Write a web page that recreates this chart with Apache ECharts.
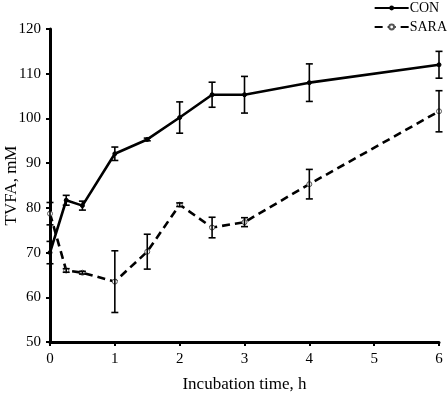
<!DOCTYPE html>
<html>
<head>
<meta charset="utf-8">
<script src="https://cdn.jsdelivr.net/npm/echarts@6/dist/echarts.min.js"></script>
<style>
html,body{margin:0;padding:0;background:#fff;}
#chart{width:447px;height:393px;}
</style>
</head>
<body>
<div id="chart"></div>
<script>
// Incubation times (h)
var times = [0, 0.25, 0.5, 1, 1.5, 2, 2.5, 3, 4, 6];
// CON mean and SE
var conMean = [70.0, 81.7, 80.5, 92.1, 95.3, 100.2, 105.3, 105.3, 108.0, 112.0];
var conErr  = [2.5, 1.1, 1.0, 1.5, 0.3, 3.5, 2.8, 4.1, 4.2, 3.0];
// SARA mean and SE
var saraMean = [78.7, 66.0, 65.5, 63.5, 70.2, 80.7, 75.6, 76.8, 85.3, 101.6];
var saraErr  = [2.5, 0.4, 0.3, 6.9, 3.9, 0.4, 2.3, 1.0, 3.3, 4.6];
// axis ticks
var yTicks = [50, 60, 70, 80, 90, 100, 110, 120];
var xTicks = [0, 1, 2, 3, 4, 5, 6];

function pts(mean){ return times.map(function(t,i){ return [t, mean[i]]; }); }
function errs(mean, err){ return times.map(function(t,i){ return [t, mean[i]-err[i], mean[i]+err[i]]; }); }

function errRender(params, api){
  var x = api.value(0), lo = api.value(1), hi = api.value(2);
  var pLo = api.coord([x, lo]), pHi = api.coord([x, hi]);
  var w = 3.5;
  var st = {stroke:'#000', lineWidth:1.6};
  return {type:'group', children:[
    {type:'line', shape:{x1:pLo[0],y1:pLo[1],x2:pHi[0],y2:pHi[1]}, style:st},
    {type:'line', shape:{x1:pLo[0]-w,y1:pLo[1],x2:pLo[0]+w,y2:pLo[1]}, style:st},
    {type:'line', shape:{x1:pHi[0]-w,y1:pHi[1],x2:pHi[0]+w,y2:pHi[1]}, style:st}
  ]};
}

var font = 'Liberation Serif';
var chart = echarts.init(document.getElementById('chart'), null, {renderer:'canvas'});
chart.setOption({
  animation:false,
  backgroundColor:'#fff',
  grid:{left:50, right:8, top:29, bottom:51, containLabel:false, outerBoundsMode:'none'},
  legend:{
    orient:'vertical', right:0, top:1, itemWidth:34, itemHeight:6, itemGap:5,
    align:'left', padding:[0,0,0,0],
    textStyle:{fontFamily:font, fontSize:14, color:'#000', padding:[0,0,0,-4], lineHeight:14},
    data:['CON','SARA']
  },
  xAxis:{
    type:'value', min:0, max:6, interval:1,
    name:'Incubation time, h', nameLocation:'middle', nameGap:34, nameMoveOverlap:false,
    nameTextStyle:{fontFamily:font, fontSize:17, color:'#000'},
    axisLine:{show:true, lineStyle:{color:'#000', width:3}},
    axisTick:{show:true, length:4, lineStyle:{color:'#000', width:2}},
    axisLabel:{fontFamily:font, fontSize:15, color:'#000', margin:10,
      formatter:function(v){ return xTicks.indexOf(v)>=0 ? String(v) : ''; }},
    splitLine:{show:false}
  },
  yAxis:{
    type:'value', min:50, max:120, interval:10,
    name:'TVFA, mM', nameLocation:'middle', nameGap:30, nameMoveOverlap:false,
    nameTextStyle:{fontFamily:font, fontSize:17, color:'#000'},
    axisLine:{show:true, lineStyle:{color:'#000', width:3}},
    axisTick:{show:true, length:4, lineStyle:{color:'#000', width:2}},
    axisLabel:{fontFamily:font, fontSize:15, color:'#000', margin:9,
      formatter:function(v){ return yTicks.indexOf(v)>=0 ? String(v) : ''; }},
    splitLine:{show:false}
  },
  series:[
    {name:'CON', type:'line', data:pts(conMean), symbol:'circle', symbolSize:4,
     lineStyle:{color:'#000', width:2.6}, itemStyle:{color:'#000', borderColor:'#000'}, z:3},
    {name:'SARA', type:'line', data:pts(saraMean), symbol:'circle', symbolSize:5,
     lineStyle:{color:'#000', width:2.6, type:[8,5]}, itemStyle:{color:'#fff', borderColor:'#555', borderWidth:1}, z:3},
    {name:'CONerr', type:'custom', data:errs(conMean, conErr), renderItem:errRender, z:4, silent:true},
    {name:'SARAerr', type:'custom', data:errs(saraMean, saraErr), renderItem:errRender, z:4, silent:true}
  ]
});
</script>
</body>
</html>
